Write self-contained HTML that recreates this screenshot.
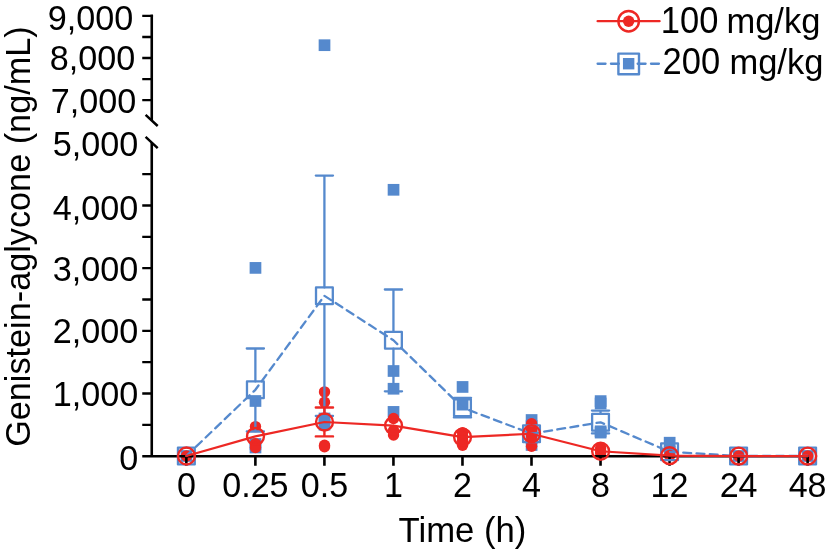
<!DOCTYPE html>
<html lang="en"><head><meta charset="utf-8"><title>Genistein-aglycone plasma concentration</title>
<style>html,body{margin:0;padding:0;background:#fff}body{width:827px;height:553px;overflow:hidden}svg{display:block;will-change:transform}text{font-family:"Liberation Sans",Arial,Helvetica,sans-serif;fill:#000}</style></head><body>
<svg width="827" height="553" viewBox="0 0 827 553">
<rect width="827" height="553" fill="#fff"/>
<g fill="#5589CD">
<rect x="180.6" y="450.15" width="11.7" height="11.7"/>
<rect x="249.63" y="262.05" width="11.7" height="11.7"/>
<rect x="249.63" y="395.15" width="11.7" height="11.7"/>
<rect x="249.63" y="438.15" width="11.7" height="11.7"/>
<rect x="249.63" y="441.65" width="11.7" height="11.7"/>
<rect x="318.66" y="39.35" width="11.7" height="11.7"/>
<rect x="318.66" y="412.65" width="11.7" height="11.7"/>
<rect x="318.66" y="418.85" width="11.7" height="11.7"/>
<rect x="387.69" y="183.95" width="11.7" height="11.7"/>
<rect x="387.69" y="365.15" width="11.7" height="11.7"/>
<rect x="387.69" y="382.9" width="11.7" height="11.7"/>
<rect x="387.69" y="406.05" width="11.7" height="11.7"/>
<rect x="456.72" y="381.1" width="11.7" height="11.7"/>
<rect x="456.72" y="398.8" width="11.7" height="11.7"/>
<rect x="525.75" y="414.15" width="11.7" height="11.7"/>
<rect x="525.75" y="420.15" width="11.7" height="11.7"/>
<rect x="525.75" y="426.15" width="11.7" height="11.7"/>
<rect x="525.75" y="432.15" width="11.7" height="11.7"/>
<rect x="525.75" y="439.15" width="11.7" height="11.7"/>
<rect x="594.78" y="395.25" width="11.7" height="11.7"/>
<rect x="594.78" y="397.65" width="11.7" height="11.7"/>
<rect x="594.78" y="425.45" width="11.7" height="11.7"/>
<rect x="594.78" y="426.75" width="11.7" height="11.7"/>
<rect x="663.81" y="436.85" width="11.7" height="11.7"/>
<rect x="663.81" y="445.65" width="11.7" height="11.7"/>
<rect x="732.84" y="450.15" width="11.7" height="11.7"/>
<rect x="801.87" y="450.15" width="11.7" height="11.7"/>
</g>
<g fill="#ED2824">
<circle cx="186.45" cy="456" r="5.7"/>
<circle cx="255.48" cy="426.6" r="5.7"/>
<circle cx="255.48" cy="443.75" r="5.7"/>
<circle cx="255.48" cy="447.5" r="5.7"/>
<circle cx="324.51" cy="391.9" r="5.7"/>
<circle cx="324.51" cy="402.2" r="5.7"/>
<circle cx="324.51" cy="445.3" r="5.7"/>
<circle cx="324.51" cy="446.8" r="5.7"/>
<circle cx="393.54" cy="418.5" r="5.7"/>
<circle cx="393.54" cy="430.5" r="5.7"/>
<circle cx="393.54" cy="435" r="5.7"/>
<circle cx="462.57" cy="432.6" r="5.7"/>
<circle cx="462.57" cy="436.5" r="5.7"/>
<circle cx="462.57" cy="440.5" r="5.7"/>
<circle cx="462.57" cy="445.3" r="5.7"/>
<circle cx="531.6" cy="423.8" r="5.7"/>
<circle cx="531.6" cy="430" r="5.7"/>
<circle cx="531.6" cy="436" r="5.7"/>
<circle cx="531.6" cy="441" r="5.7"/>
<circle cx="531.6" cy="446.2" r="5.7"/>
<circle cx="600.63" cy="448" r="5.7"/>
<circle cx="600.63" cy="451" r="5.7"/>
<circle cx="600.63" cy="453" r="5.7"/>
<circle cx="669.66" cy="455.5" r="5.7"/>
<circle cx="738.69" cy="456" r="5.7"/>
<circle cx="807.72" cy="456" r="5.7"/>
</g>
<g stroke="#000" stroke-width="2.6" fill="none" stroke-linecap="butt">
<path d="M151.75 14.65V120"/>
<path d="M151.75 142.5V456.2"/>
<path d="M142.25 456.2 H808.92"/>
<path d="M145.6 114.9L157.7 126M145.6 136.9L157.7 148.1" stroke-width="2.5"/>
<path d="M142.25 15.8H153.05M142.25 37H151.75M142.25 58H151.75M142.25 79.1H151.75M142.25 100.2H151.75M142.25 424.86H151.75M142.25 393.52H151.75M142.25 362.18H151.75M142.25 330.84H151.75M142.25 299.5H151.75M142.25 268.16H151.75M142.25 236.82H151.75M142.25 205.48H151.75M142.25 174.14H151.75" stroke-width="2.3"/>
<path d="M186.35 456.2V465.7M255.38 456.2V465.7M324.41 456.2V465.7M393.44 456.2V465.7M462.47 456.2V465.7M531.5 456.2V465.7M600.53 456.2V465.7M669.56 456.2V465.7M738.59 456.2V465.7M807.62 456.2V465.7"/>
</g>
<g stroke="#5589CD" stroke-width="2.3" fill="none" stroke-linecap="round" stroke-linejoin="round">
<path d="M246.78 348.5H263.98M255.38 348.5V381.4M255.38 398.2V431.5M246.78 431.5H263.98"/>
<path d="M315.81 175.6H333.01M324.41 175.6V287.4M324.41 304.2V416M315.81 416H333.01"/>
<path d="M384.84 289.5H402.04M393.44 289.5V331.9M393.44 348.7V391.3M384.84 391.3H402.04"/>
<path d="M453.87 397.85H471.07M462.47 397.85V399.25M462.47 416.05V417.45M453.87 417.45H471.07"/>
<path d="M591.93 410.6H609.13M600.53 410.6V413.9M600.53 430.7V433.4M591.93 433.4H609.13"/>
<polyline points="186.35,456 255.38,389.8 324.41,295.8 393.44,340.3 462.47,407.65 531.5,433.75 600.53,422.3 669.56,451.75 738.59,456 807.62,456" stroke-dasharray="7.9 5.36" stroke-dashoffset="-0.2"/>
<rect x="177.95" y="447.6" width="16.8" height="16.8"/>
<rect x="246.98" y="381.4" width="16.8" height="16.8"/>
<rect x="316.01" y="287.4" width="16.8" height="16.8"/>
<rect x="385.04" y="331.9" width="16.8" height="16.8"/>
<rect x="454.07" y="399.25" width="16.8" height="16.8"/>
<rect x="523.1" y="425.35" width="16.8" height="16.8"/>
<rect x="592.13" y="413.9" width="16.8" height="16.8"/>
<rect x="661.16" y="443.35" width="16.8" height="16.8"/>
<rect x="730.19" y="447.6" width="16.8" height="16.8"/>
<rect x="799.22" y="447.6" width="16.8" height="16.8"/>
</g>
<g stroke="#ED2824" stroke-width="2.4" fill="none" stroke-linecap="round" stroke-linejoin="round">
<path d="M315.81 407.5H333.01M324.41 407.5V413.55M324.41 430.45V436.4M315.81 436.4H333.01"/>
<polyline points="186.35,456 255.38,436.4 324.41,422 393.44,425.6 462.47,437.1 531.5,433.75 600.53,451.25 669.56,455.7 738.59,456.1 807.62,456.1" stroke-width="2.25"/>
<circle cx="186.45" cy="456" r="8.45"/>
<circle cx="255.48" cy="436.4" r="8.45"/>
<circle cx="324.51" cy="422" r="8.45"/>
<circle cx="393.54" cy="425.6" r="8.45"/>
<circle cx="462.57" cy="437.1" r="8.45"/>
<circle cx="531.6" cy="433.75" r="8.45"/>
<circle cx="600.63" cy="451.25" r="8.45"/>
<circle cx="669.66" cy="455.7" r="8.45"/>
<circle cx="738.69" cy="456.1" r="8.45"/>
<circle cx="807.72" cy="456.1" r="8.45"/>
</g>
<g fill="none" stroke-linecap="round" stroke-linejoin="round">
<path d="M597.6 21.2H659.6" stroke="#ED2824" stroke-width="2.3"/>
<circle cx="628.65" cy="21.2" r="10.25" stroke="#ED2824" stroke-width="2.4"/>
<circle cx="628.65" cy="21.2" r="5.7" fill="#ED2824"/>
<path d="M597.6 63.75H659.6" stroke="#5589CD" stroke-width="2.3" stroke-dasharray="7.95 5.4"/>
<rect x="618.4" y="53.6" width="20.6" height="20.6" stroke="#5589CD" stroke-width="2.4"/>
<rect x="622.95" y="58" width="11.4" height="11.4" fill="#5589CD"/>
</g>
<g>
<text transform="translate(133.3 29.5) scale(1 1.045)" font-size="34.2" text-anchor="end">9,000</text>
<text transform="translate(135.3 70.2) scale(1 1.045)" font-size="34.2" text-anchor="end">8,000</text>
<text transform="translate(136.3 112.5) scale(1 1.045)" font-size="34.2" text-anchor="end">7,000</text>
<text transform="translate(138.3 156.4) scale(1 1.045)" font-size="34.2" text-anchor="end">5,000</text>
<text transform="translate(138.3 219.7) scale(1 1.045)" font-size="34.2" text-anchor="end">4,000</text>
<text transform="translate(138.3 280.6) scale(1 1.045)" font-size="34.2" text-anchor="end">3,000</text>
<text transform="translate(138.3 343.3) scale(1 1.045)" font-size="34.2" text-anchor="end">2,000</text>
<text transform="translate(138.3 406) scale(1 1.045)" font-size="34.2" text-anchor="end">1,000</text>
<text transform="translate(138.3 469.5) scale(1 1.045)" font-size="34.2" text-anchor="end">0</text>
<text transform="translate(186.35 497.3) scale(1 1.045)" font-size="34.1" text-anchor="middle">0</text>
<text transform="translate(255.38 497.3) scale(1 1.045)" font-size="34.1" text-anchor="middle">0.25</text>
<text transform="translate(324.41 497.3) scale(1 1.045)" font-size="34.1" text-anchor="middle">0.5</text>
<text transform="translate(393.44 497.3) scale(1 1.045)" font-size="34.1" text-anchor="middle">1</text>
<text transform="translate(462.47 497.3) scale(1 1.045)" font-size="34.1" text-anchor="middle">2</text>
<text transform="translate(531.5 497.3) scale(1 1.045)" font-size="34.1" text-anchor="middle">4</text>
<text transform="translate(600.53 497.3) scale(1 1.045)" font-size="34.1" text-anchor="middle">8</text>
<text transform="translate(669.56 497.3) scale(1 1.045)" font-size="34.1" text-anchor="middle">12</text>
<text transform="translate(738.59 497.3) scale(1 1.045)" font-size="34.1" text-anchor="middle">24</text>
<text transform="translate(807.62 497.3) scale(1 1.045)" font-size="34.1" text-anchor="middle">48</text>
<text transform="translate(462.5 541.9) scale(1 1.03)" font-size="34.7" text-anchor="middle">Time (h)</text>
<text transform="translate(30.4 236.6) rotate(-90) scale(1 1.02)" font-size="34.25" text-anchor="middle">Genistein-aglycone (ng/mL)</text>
<text transform="translate(660.8 33.1) scale(1 1.045)" font-size="34.5">100</text>
<text x="726.4" y="33.1" font-size="34.5">mg/kg</text>
<text transform="translate(662.6 74.1) scale(1 1.045)" font-size="34.5">200</text>
<text x="729.45" y="74.1" font-size="34.5">mg/kg</text>
</g>
</svg></body></html>
